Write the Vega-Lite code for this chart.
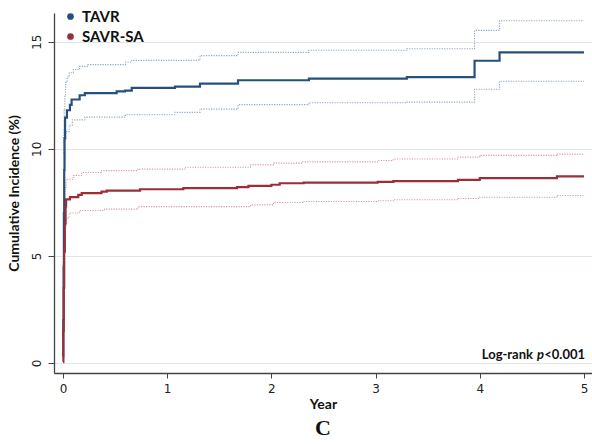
{
  "$schema": "https://vega.github.io/schema/vega-lite/v6.json",
  "autosize": {"type": "none"},
  "padding": {"left": 54, "top": 13, "right": 0, "bottom": 71},
  "width": 538,
  "height": 360,
  "background": "white",
  "title": {"text": "C", "orient": "bottom", "anchor": "middle", "font": "Liberation Serif", "fontSize": 22, "fontWeight": "bold", "color": "#111", "offset": 7},
  "config": {"view": {"stroke": null}},
  "datasets": {
    "curves": [
      {"arm": "TAVR", "band": "est", "t": 0, "v": 0.3},
      {"arm": "TAVR", "band": "est", "t": 0.003, "v": 2},
      {"arm": "TAVR", "band": "est", "t": 0.006, "v": 4.5},
      {"arm": "TAVR", "band": "est", "t": 0.009, "v": 7},
      {"arm": "TAVR", "band": "est", "t": 0.012, "v": 9},
      {"arm": "TAVR", "band": "est", "t": 0.015, "v": 10.5},
      {"arm": "TAVR", "band": "est", "t": 0.02, "v": 11.45},
      {"arm": "TAVR", "band": "est", "t": 0.038, "v": 11.8},
      {"arm": "TAVR", "band": "est", "t": 0.067, "v": 12.05},
      {"arm": "TAVR", "band": "est", "t": 0.083, "v": 12.3},
      {"arm": "TAVR", "band": "est", "t": 0.16, "v": 12.5},
      {"arm": "TAVR", "band": "est", "t": 0.21, "v": 12.6},
      {"arm": "TAVR", "band": "est", "t": 0.515, "v": 12.68},
      {"arm": "TAVR", "band": "est", "t": 0.595, "v": 12.72},
      {"arm": "TAVR", "band": "est", "t": 0.66, "v": 12.84},
      {"arm": "TAVR", "band": "est", "t": 1.075, "v": 12.9},
      {"arm": "TAVR", "band": "est", "t": 1.315, "v": 13.04},
      {"arm": "TAVR", "band": "est", "t": 1.68, "v": 13.2},
      {"arm": "TAVR", "band": "est", "t": 2.36, "v": 13.28},
      {"arm": "TAVR", "band": "est", "t": 3.3, "v": 13.35},
      {"arm": "TAVR", "band": "est", "t": 3.95, "v": 14.11},
      {"arm": "TAVR", "band": "est", "t": 4.19, "v": 14.5},
      {"arm": "TAVR", "band": "est", "t": 5.0, "v": 14.5},

      {"arm": "TAVR", "band": "hi", "t": 0.005, "v": 9.8},
      {"arm": "TAVR", "band": "hi", "t": 0.008, "v": 10.9},
      {"arm": "TAVR", "band": "hi", "t": 0.012, "v": 11.8},
      {"arm": "TAVR", "band": "hi", "t": 0.018, "v": 12.5},
      {"arm": "TAVR", "band": "hi", "t": 0.025, "v": 13.1},
      {"arm": "TAVR", "band": "hi", "t": 0.04, "v": 13.35},
      {"arm": "TAVR", "band": "hi", "t": 0.06, "v": 13.55},
      {"arm": "TAVR", "band": "hi", "t": 0.1, "v": 13.7},
      {"arm": "TAVR", "band": "hi", "t": 0.16, "v": 13.85},
      {"arm": "TAVR", "band": "hi", "t": 0.24, "v": 13.93},
      {"arm": "TAVR", "band": "hi", "t": 0.6, "v": 14.05},
      {"arm": "TAVR", "band": "hi", "t": 0.66, "v": 14.13},
      {"arm": "TAVR", "band": "hi", "t": 1.315, "v": 14.35},
      {"arm": "TAVR", "band": "hi", "t": 1.68, "v": 14.5},
      {"arm": "TAVR", "band": "hi", "t": 2.36, "v": 14.6},
      {"arm": "TAVR", "band": "hi", "t": 3.3, "v": 14.67},
      {"arm": "TAVR", "band": "hi", "t": 3.95, "v": 15.53},
      {"arm": "TAVR", "band": "hi", "t": 4.19, "v": 15.98},
      {"arm": "TAVR", "band": "hi", "t": 5.0, "v": 15.98},

      {"arm": "TAVR", "band": "lo", "t": 0.012, "v": 9.6},
      {"arm": "TAVR", "band": "lo", "t": 0.018, "v": 10.4},
      {"arm": "TAVR", "band": "lo", "t": 0.03, "v": 10.8},
      {"arm": "TAVR", "band": "lo", "t": 0.06, "v": 11.1},
      {"arm": "TAVR", "band": "lo", "t": 0.09, "v": 11.35},
      {"arm": "TAVR", "band": "lo", "t": 0.21, "v": 11.48},
      {"arm": "TAVR", "band": "lo", "t": 0.6, "v": 11.59},
      {"arm": "TAVR", "band": "lo", "t": 1.075, "v": 11.7},
      {"arm": "TAVR", "band": "lo", "t": 1.315, "v": 11.85},
      {"arm": "TAVR", "band": "lo", "t": 1.68, "v": 12.06},
      {"arm": "TAVR", "band": "lo", "t": 2.36, "v": 12.15},
      {"arm": "TAVR", "band": "lo", "t": 3.3, "v": 12.18},
      {"arm": "TAVR", "band": "lo", "t": 3.95, "v": 12.78},
      {"arm": "TAVR", "band": "lo", "t": 4.19, "v": 13.15},
      {"arm": "TAVR", "band": "lo", "t": 5.0, "v": 13.15},

      {"arm": "SAVR-SA", "band": "est", "t": 0, "v": 0.05},
      {"arm": "SAVR-SA", "band": "est", "t": 0.004, "v": 1.5},
      {"arm": "SAVR-SA", "band": "est", "t": 0.008, "v": 3.5},
      {"arm": "SAVR-SA", "band": "est", "t": 0.012, "v": 5.2},
      {"arm": "SAVR-SA", "band": "est", "t": 0.018, "v": 6.5},
      {"arm": "SAVR-SA", "band": "est", "t": 0.025, "v": 7.3},
      {"arm": "SAVR-SA", "band": "est", "t": 0.03, "v": 7.64},
      {"arm": "SAVR-SA", "band": "est", "t": 0.067, "v": 7.74},
      {"arm": "SAVR-SA", "band": "est", "t": 0.147, "v": 7.85},
      {"arm": "SAVR-SA", "band": "est", "t": 0.18, "v": 7.93},
      {"arm": "SAVR-SA", "band": "est", "t": 0.37, "v": 8.0},
      {"arm": "SAVR-SA", "band": "est", "t": 0.42, "v": 8.05},
      {"arm": "SAVR-SA", "band": "est", "t": 0.74, "v": 8.11},
      {"arm": "SAVR-SA", "band": "est", "t": 1.155, "v": 8.16},
      {"arm": "SAVR-SA", "band": "est", "t": 1.67, "v": 8.21},
      {"arm": "SAVR-SA", "band": "est", "t": 1.78, "v": 8.27},
      {"arm": "SAVR-SA", "band": "est", "t": 2.0, "v": 8.32},
      {"arm": "SAVR-SA", "band": "est", "t": 2.08, "v": 8.39},
      {"arm": "SAVR-SA", "band": "est", "t": 2.31, "v": 8.42},
      {"arm": "SAVR-SA", "band": "est", "t": 3.02, "v": 8.45},
      {"arm": "SAVR-SA", "band": "est", "t": 3.17, "v": 8.49},
      {"arm": "SAVR-SA", "band": "est", "t": 3.79, "v": 8.55},
      {"arm": "SAVR-SA", "band": "est", "t": 4.0, "v": 8.63},
      {"arm": "SAVR-SA", "band": "est", "t": 4.74, "v": 8.71},
      {"arm": "SAVR-SA", "band": "est", "t": 5.0, "v": 8.71},

      {"arm": "SAVR-SA", "band": "hi", "t": 0.01, "v": 6.5},
      {"arm": "SAVR-SA", "band": "hi", "t": 0.015, "v": 7.5},
      {"arm": "SAVR-SA", "band": "hi", "t": 0.02, "v": 8.2},
      {"arm": "SAVR-SA", "band": "hi", "t": 0.03, "v": 8.58},
      {"arm": "SAVR-SA", "band": "hi", "t": 0.1, "v": 8.75},
      {"arm": "SAVR-SA", "band": "hi", "t": 0.18, "v": 8.89},
      {"arm": "SAVR-SA", "band": "hi", "t": 0.37, "v": 8.98},
      {"arm": "SAVR-SA", "band": "hi", "t": 0.72, "v": 9.05},
      {"arm": "SAVR-SA", "band": "hi", "t": 1.17, "v": 9.14},
      {"arm": "SAVR-SA", "band": "hi", "t": 1.8, "v": 9.25},
      {"arm": "SAVR-SA", "band": "hi", "t": 2.02, "v": 9.33},
      {"arm": "SAVR-SA", "band": "hi", "t": 2.3, "v": 9.39},
      {"arm": "SAVR-SA", "band": "hi", "t": 3.02, "v": 9.45},
      {"arm": "SAVR-SA", "band": "hi", "t": 3.17, "v": 9.52},
      {"arm": "SAVR-SA", "band": "hi", "t": 3.79, "v": 9.61},
      {"arm": "SAVR-SA", "band": "hi", "t": 4.0, "v": 9.69},
      {"arm": "SAVR-SA", "band": "hi", "t": 4.74, "v": 9.75},
      {"arm": "SAVR-SA", "band": "hi", "t": 5.0, "v": 9.75},

      {"arm": "SAVR-SA", "band": "lo", "t": 0.015, "v": 5.5},
      {"arm": "SAVR-SA", "band": "lo", "t": 0.022, "v": 6.3},
      {"arm": "SAVR-SA", "band": "lo", "t": 0.03, "v": 6.76},
      {"arm": "SAVR-SA", "band": "lo", "t": 0.06, "v": 7.0},
      {"arm": "SAVR-SA", "band": "lo", "t": 0.16, "v": 7.12},
      {"arm": "SAVR-SA", "band": "lo", "t": 0.4, "v": 7.18},
      {"arm": "SAVR-SA", "band": "lo", "t": 0.72, "v": 7.3},
      {"arm": "SAVR-SA", "band": "lo", "t": 1.8, "v": 7.38},
      {"arm": "SAVR-SA", "band": "lo", "t": 2.02, "v": 7.49},
      {"arm": "SAVR-SA", "band": "lo", "t": 2.3, "v": 7.54},
      {"arm": "SAVR-SA", "band": "lo", "t": 3.02, "v": 7.57},
      {"arm": "SAVR-SA", "band": "lo", "t": 3.17, "v": 7.62},
      {"arm": "SAVR-SA", "band": "lo", "t": 3.79, "v": 7.68},
      {"arm": "SAVR-SA", "band": "lo", "t": 4.0, "v": 7.74},
      {"arm": "SAVR-SA", "band": "lo", "t": 4.74, "v": 7.82},
      {"arm": "SAVR-SA", "band": "lo", "t": 5.0, "v": 7.82}
    ],
    "note": [{"t": 5.01, "v": 0.37}]
  },
  "encoding": {
    "x": {
      "field": "t", "type": "quantitative",
      "scale": {"domain": [-0.086, 5.077], "nice": false, "zero": false},
      "axis": {
        "title": "Year", "values": [0, 1, 2, 3, 4, 5], "grid": false,
        "domainColor": "#444", "domainWidth": 1.3, "tickColor": "#444", "tickSize": 5, "tickWidth": 1,
        "labelFont": "DejaVu Sans", "labelFontSize": 12, "labelColor": "#222", "labelPadding": 5,
        "titleFont": "Lato", "titleFontSize": 14, "titleFontWeight": "bold", "titleColor": "#111", "titlePadding": 3
      }
    },
    "y": {
      "field": "v", "type": "quantitative",
      "scale": {"domain": [-0.47, 16.34], "nice": false, "zero": false},
      "axis": {
        "title": "Cumulative Incidence (%)", "values": [0, 5, 10, 15], "grid": true,
        "gridColor": "#dde8ee", "gridWidth": 1,
        "domainColor": "#444", "domainWidth": 1.3, "tickColor": "#444", "tickSize": 6, "tickWidth": 1,
        "labelAngle": -90, "labelFont": "DejaVu Sans", "labelFontSize": 12, "labelColor": "#222", "labelPadding": 5,
        "titleFont": "Lato", "titleFontSize": 14, "titleFontWeight": "bold", "titleColor": "#111", "titlePadding": 9
      }
    }
  },
  "layer": [
    {
      "data": {"name": "curves"},
      "transform": [{"filter": "datum.band != 'est' && datum.arm == 'TAVR'"}],
      "mark": {"type": "line", "interpolate": "step-after", "strokeWidth": 1.1, "strokeDash": [1.2, 1.3], "color": "#8ea7c4"},
      "encoding": {"detail": {"field": "band"}}
    },
    {
      "data": {"name": "curves"},
      "transform": [{"filter": "datum.band != 'est' && datum.arm == 'SAVR-SA'"}],
      "mark": {"type": "line", "interpolate": "step-after", "strokeWidth": 1.1, "strokeDash": [1.2, 1.3], "color": "#d99aa1"},
      "encoding": {"detail": {"field": "band"}}
    },
    {
      "data": {"name": "curves"},
      "transform": [{"filter": "datum.band == 'est'"}],
      "mark": {"type": "line", "interpolate": "step-after", "strokeWidth": 2.2},
      "encoding": {
        "color": {
          "field": "arm", "type": "nominal",
          "scale": {"domain": ["TAVR", "SAVR-SA"], "range": ["#26507e", "#9b2f38"]},
          "legend": {
            "title": null, "orient": "none", "legendX": 9, "legendY": -4,
            "symbolType": "circle", "symbolSize": 45, "symbolStrokeWidth": 0,
            "labelFont": "Lato", "labelFontSize": 15, "labelFontWeight": "bold", "labelColor": "#111",
            "labelOffset": 4, "rowPadding": 4,
            "encode": {"symbols": {"update": {"fill": {"scale": "color", "field": "value"}, "fillOpacity": {"value": 1}}}}
          }
        }
      }
    },
    {
      "data": {"name": "note"},
      "mark": {"type": "text", "align": "right", "baseline": "middle", "font": "Lato", "fontSize": 13, "fontWeight": "bold", "color": "#111", "text": "<0.001"},
      "encoding": {}
    },
    {
      "data": {"name": "note"},
      "mark": {"type": "text", "align": "right", "baseline": "middle", "font": "Lato", "fontSize": 13, "fontWeight": "bold", "fontStyle": "italic", "color": "#111", "text": "p", "dx": -41},
      "encoding": {}
    },
    {
      "data": {"name": "note"},
      "mark": {"type": "text", "align": "right", "baseline": "middle", "font": "Lato", "fontSize": 13, "fontWeight": "bold", "color": "#111", "text": "Log-rank", "dx": -52}
    }
  ]
}
